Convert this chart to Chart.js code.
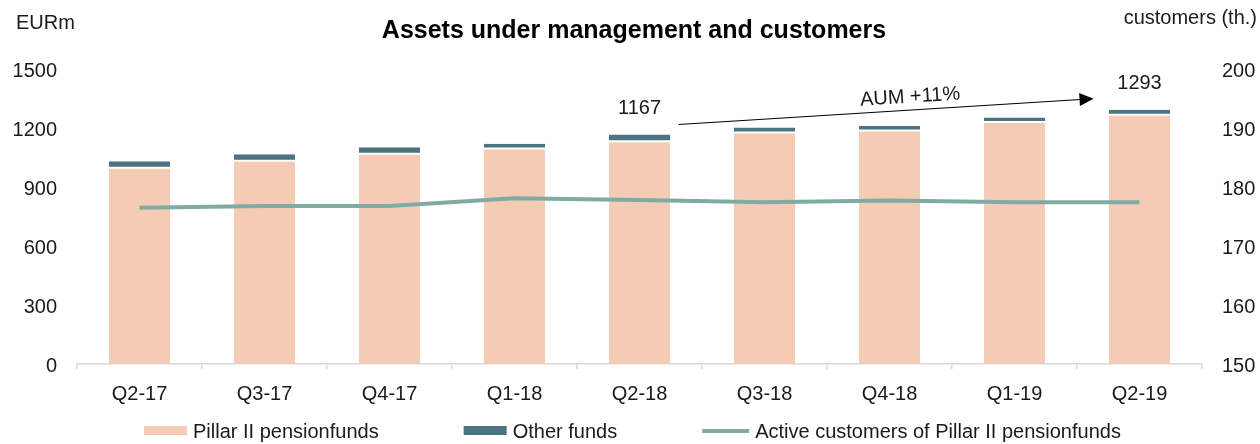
<!DOCTYPE html>
<html>
<head>
<meta charset="utf-8">
<title>Assets under management and customers</title>
<script src="https://cdn.jsdelivr.net/npm/chart.js@4.4.1/dist/chart.umd.min.js"></script>
<style>
  body { margin: 0; background: #fff; }
  #box { width: 1260px; height: 444px; }
</style>
</head>
<body>
<div id="box"><canvas id="grafico" width="1260" height="444"></canvas></div>
<script>
// dados (EURm e milhares de clientes)
const quarters = ["Q2-17", "Q3-17", "Q4-17", "Q1-18", "Q2-18", "Q3-18", "Q4-18", "Q1-19", "Q2-19"];
const pillarII = [998, 1033, 1069, 1096, 1133, 1177, 1187, 1231, 1267];
const otherFunds = [33, 33, 33, 24, 34, 25, 23, 23, 26];
const activeCustomers = [176.5, 176.8, 176.8, 178.1, 177.8, 177.4, 177.7, 177.4, 177.4];
const aumTicks = [0, 300, 600, 900, 1200, 1500];
const customerTicks = [150, 160, 170, 180, 190, 200];
const labelledBars = [4, 8];   // 1167 e 1293

const FONT = "'Liberation Sans', Arial, sans-serif";
const PEACH = "#F4CBB4";
const TEAL = "#4A7580";
const LINE = "#80ABA5";

Chart.defaults.font.family = FONT;
Chart.defaults.font.size = 20;
Chart.defaults.color = "#1a1a1a";

const totals = pillarII.map((v, i) => v + otherFunds[i]);

function drawLegend(ctx, chart) {
    const items = chart.data.datasets;
    ctx.font = "20px " + FONT;
    ctx.textAlign = "left";
    ctx.textBaseline = "middle";
    let x = 144;
    items.forEach((ds, i) => {
        const w = ds.type === "line" ? 47 : 43;
        if (ds.type === "line") {
            ctx.fillStyle = ds.borderColor;
            ctx.fillRect(x, 429, w, 4);
        } else {
            ctx.fillStyle = ds.backgroundColor;
            ctx.fillRect(x, 426, w, 9);
        }
        ctx.fillStyle = "#1a1a1a";
        ctx.fillText(ds.label, x + w + 6, 432);
        x += w + 6 + ctx.measureText(ds.label).width + 85;
    });
}

const extras = {
    id: "extras",
    afterDraw(chart) {
        const ctx = chart.ctx;
        const sx = chart.scales.x;
        const sy = chart.scales.y;
        ctx.save();

        // titulo
        ctx.fillStyle = "#000";
        ctx.font = "bold 25px " + FONT;
        ctx.textAlign = "center";
        ctx.textBaseline = "middle";
        ctx.fillText("Assets under management and customers", 634, 31);

        // unidades
        ctx.font = "20px " + FONT;
        ctx.fillStyle = "#1a1a1a";
        ctx.textAlign = "left";
        ctx.fillText("EURm", 16, 23);
        ctx.textAlign = "right";
        ctx.fillText("customers (th.)", 1257, 18);

        // totais acima das barras
        ctx.textAlign = "center";
        labelledBars.forEach(i => {
            ctx.fillText(String(totals[i]), sx.getPixelForValue(i), sy.getPixelForValue(totals[i]) - 26);
        });

        // seta AUM
        const a = labelledBars[0], b = labelledBars[1];
        const x0 = sx.getPixelForValue(a) + 39, y0 = sy.getPixelForValue(totals[a]) - 10;
        const x1 = sx.getPixelForValue(b) - 46, y1 = sy.getPixelForValue(totals[b]) - 11;
        const ang = Math.atan2(y1 - y0, x1 - x0);
        ctx.strokeStyle = "#000";
        ctx.fillStyle = "#000";
        ctx.lineWidth = 1.2;
        ctx.beginPath();
        ctx.moveTo(x0, y0);
        ctx.lineTo(x1 - 13 * Math.cos(ang), y1 - 13 * Math.sin(ang));
        ctx.stroke();
        ctx.translate(x1, y1);
        ctx.rotate(ang);
        ctx.beginPath();
        ctx.moveTo(0, 0);
        ctx.lineTo(-14, -6.5);
        ctx.lineTo(-14, 6.5);
        ctx.closePath();
        ctx.fill();
        ctx.setTransform(1, 0, 0, 1, 0, 0);

        const growth = Math.round((totals[b] / totals[a] - 1) * 100);
        const tx = x0 + (x1 - x0) * 0.56, ty = y0 + (y1 - y0) * 0.56;
        ctx.translate(tx + 13 * Math.sin(ang), ty - 13 * Math.cos(ang));
        ctx.rotate(ang);
        ctx.fillStyle = "#1a1a1a";
        ctx.fillText("AUM +" + growth + "%", 0, 0);
        ctx.setTransform(1, 0, 0, 1, 0, 0);

        drawLegend(ctx, chart);
        ctx.restore();
    }
};

new Chart(document.getElementById("grafico"), {
    type: "bar",
    data: {
        labels: quarters,
        datasets: [
            {
                label: "Pillar II pensionfunds",
                data: pillarII,
                backgroundColor: PEACH,
                borderColor: "#fff",
                borderWidth: { top: 1, bottom: 0, left: 0, right: 0 },
                borderSkipped: false,
                yAxisID: "y",
                order: 1
            },
            {
                label: "Other funds",
                data: otherFunds,
                backgroundColor: TEAL,
                borderColor: "#fff",
                borderWidth: { top: 0, bottom: 1, left: 0, right: 0 },
                borderSkipped: false,
                yAxisID: "y",
                order: 1
            },
            {
                type: "line",
                label: "Active customers of Pillar II pensionfunds",
                data: activeCustomers,
                borderColor: LINE,
                backgroundColor: LINE,
                borderWidth: 4,
                pointRadius: 0,
                tension: 0,
                yAxisID: "y1",
                order: 0
            }
        ]
    },
    options: {
        responsive: false,
        animation: false,
        devicePixelRatio: 1,
        layout: { padding: { top: 69, bottom: 40, left: 0, right: 0 } },
        datasets: { bar: { categoryPercentage: 1, barPercentage: 0.49 } },
        plugins: {
            legend: { display: false },
            tooltip: { enabled: false }
        },
        scales: {
            x: {
                stacked: true,
                grid: { display: true, drawOnChartArea: false, drawTicks: true, tickLength: 5, color: "#D9D9D9", lineWidth: 1.5 },
                border: { display: true, color: "#D9D9D9", width: 1.5 },
                ticks: { padding: 13, maxRotation: 0 },
                afterFit: s => { s.height = 40; }
            },
            y: {
                stacked: true,
                position: "left",
                min: aumTicks[0],
                max: aumTicks[aumTicks.length - 1],
                grid: { display: false, drawTicks: false },
                border: { display: false },
                ticks: {
                    stepSize: aumTicks[1] - aumTicks[0],
                    padding: 20,
                    labelOffset: 2,
                    callback: v => String(v)
                },
                afterFit: s => { s.width = 77; }
            },
            y1: {
                position: "right",
                min: customerTicks[0],
                max: customerTicks[customerTicks.length - 1],
                grid: { display: false, drawTicks: false },
                border: { display: false },
                ticks: {
                    stepSize: customerTicks[1] - customerTicks[0],
                    padding: 20,
                    labelOffset: 2,
                    callback: v => String(v)
                },
                afterFit: s => { s.width = 58; }
            }
        }
    },
    plugins: [extras]
});
</script>
</body>
</html>
